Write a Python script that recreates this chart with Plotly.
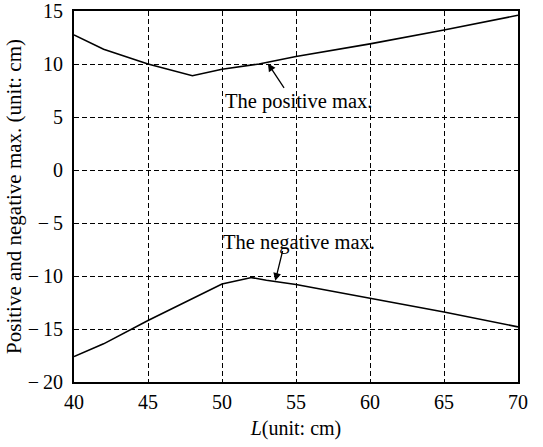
import plotly.graph_objects as go

# Data
L_pos = [40, 42, 45, 48, 50, 52.5, 55, 60, 65, 70]
pos_max = [12.75, 11.4, 10.0, 8.9, 9.5, 10.0, 10.7, 11.9, 13.2, 14.6]

L_neg = [40, 42, 45, 48, 50, 52, 53, 55, 60, 65, 70]
neg_max = [-17.6, -16.4, -14.2, -12.1, -10.75, -10.15, -10.4, -10.8, -12.1, -13.4, -14.8]

x_ticks = [40, 45, 50, 55, 60, 65, 70]
y_ticks = [15, 10, 5, 0, -5, -10, -15, -20]
y_tick_labels = ["15", "10", "5", "0", "\u2212\u20095", "\u2212\u200910", "\u2212\u200915", "\u2212\u200920"]

FONT = "Liberation Serif, Times New Roman, serif"

fig = go.Figure()
fig.add_trace(go.Scatter(x=L_pos, y=pos_max, mode="lines",
                         line=dict(color="black", width=1.6), showlegend=False))
fig.add_trace(go.Scatter(x=L_neg, y=neg_max, mode="lines",
                         line=dict(color="black", width=1.6), showlegend=False))

axis_common = dict(showgrid=True, gridcolor="black", gridwidth=1.2, griddash="5px,3px",
                   showline=True, linecolor="black", linewidth=1.8, mirror=True,
                   zeroline=False, ticks="", automargin=False, ticklabeloverflow="allow",
                   tickfont=dict(family=FONT, size=20, color="black"))

fig.update_xaxes(range=[40, 70], tickvals=x_ticks, ticktext=[str(v) for v in x_ticks],
                 title=dict(text="<i>L</i>(unit: cm)", font=dict(family=FONT, size=20, color="black"),
                            standoff=9),
                 ticklabelstandoff=1, **axis_common)
fig.update_yaxes(range=[-20, 15], tickvals=y_ticks, ticktext=y_tick_labels,
                 title=dict(text="Positive and negative max. (unit: cm)",
                            font=dict(family=FONT, size=21, color="black"), standoff=0),
                 ticklabelstandoff=5, **axis_common)

annots = [
    dict(x=53.1, y=10.05, ax=54.26, ay=7.6, xref="x", yref="y", axref="x", ayref="y",
         text="", showarrow=True, arrowhead=2, arrowsize=1.2, arrowwidth=1.3, arrowcolor="black"),
    dict(x=53.6, y=-10.45, ax=54.12, ay=-7.5, xref="x", yref="y", axref="x", ayref="y",
         text="", showarrow=True, arrowhead=2, arrowsize=1.2, arrowwidth=1.3, arrowcolor="black"),
    dict(x=55.17, y=6.46, xref="x", yref="y", text="The positive max.", showarrow=False,
         font=dict(family=FONT, size=20.5, color="black")),
    dict(x=55.17, y=-6.86, xref="x", yref="y", text="The negative max.", showarrow=False,
         font=dict(family=FONT, size=20.5, color="black")),
]

fig.update_layout(width=543, height=447, margin=dict(l=74, r=25, t=11, b=65),
                  plot_bgcolor="white", paper_bgcolor="white", annotations=annots,
                  font=dict(family=FONT, color="black"))

fig.write_html("out.html", config={"displayModeBar": False},
               post_script="document.body.style.margin='0';")
